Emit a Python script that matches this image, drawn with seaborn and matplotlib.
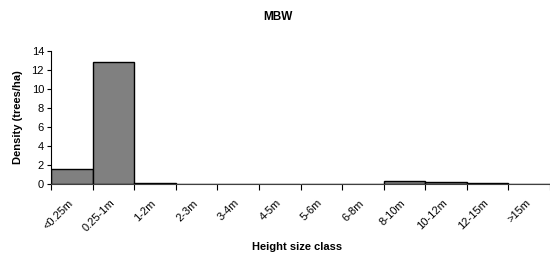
import matplotlib
matplotlib.use("Agg")
import matplotlib.pyplot as plt
import matplotlib.transforms as mtransforms
import seaborn as sns
import pandas as pd
import numpy as np

categories = ["<0.25m", "0.25-1m", "1-2m", "2-3m", "3-4m", "4-5m", "5-6m",
              "6-8m", "8-10m", "10-12m", "12-15m", ">15m"]
density = [1.6, 12.8, 0.1, 0, 0, 0, 0, 0, 0.3, 0.2, 0.1, 0]

sns.set_style("white")
plt.rcParams['font.family'] = ['Liberation Sans', 'DejaVu Sans']
plt.rcParams['text.color'] = 'black'
plt.rcParams['xtick.color'] = 'black'
plt.rcParams['ytick.color'] = 'black'
plt.rcParams['axes.labelcolor'] = 'black'

df = pd.DataFrame({"cls": categories, "density": density})

fig = plt.figure(figsize=(5.5, 2.61), dpi=100)
ax = fig.add_axes([51/550, 77/261, 499/550, 133/261])

sns.barplot(data=df, x="cls", y="density", color="#808080", saturation=1,
            width=1.0, edgecolor="black", linewidth=1.0, ax=ax)

n = len(categories)
ax.set_xlim(-0.5, n - 0.5)
ax.set_ylim(0, 14)
ax.set_yticks(np.arange(0, 15, 2))
ax.tick_params(axis='y', labelsize=8, length=3, width=0.8, direction='out', left=True, pad=2)

ax.set_xticks(np.arange(-0.5, n, 1.0))
ax.set_xticklabels([])
ax.set_xticks(np.arange(n), minor=True)
ax.set_xticklabels(categories, minor=True, rotation=45, ha='right', rotation_mode='anchor', fontsize=8)
ax.tick_params(axis='x', which='major', length=4, width=0.8, direction='out', bottom=True)
ax.tick_params(axis='x', which='minor', length=0, pad=10)
offset = mtransforms.ScaledTranslation(-4/100, 0, fig.dpi_scale_trans)
for lbl in ax.get_xticklabels(minor=True):
    lbl.set_transform(lbl.get_transform() + offset)

for s in ["top", "right"]:
    ax.spines[s].set_visible(False)
ax.spines["left"].set_color("black")
ax.spines["left"].set_linewidth(0.8)
ax.spines["bottom"].set_color("#404040")
ax.spines["bottom"].set_linewidth(0.8)

ax.set_xlabel("")
ax.set_ylabel("Density (trees/ha)", fontsize=8, fontweight='bold', labelpad=6)
fig.text(297/550, 1 - 247/261, "Height size class", ha='center', va='center',
         fontsize=8, fontweight='bold')
fig.text(278/550, 1 - 16.5/261, "MBW", ha='center', va='center', fontsize=8.5, fontweight='bold')

fig.savefig("out.png", dpi=100)
